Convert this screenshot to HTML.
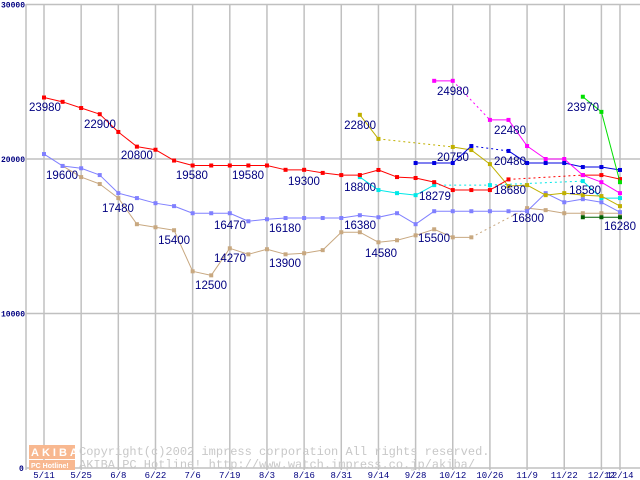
<!DOCTYPE html>
<html><head><meta charset="utf-8"><style>
body{margin:0;background:#fff;}
svg{display:block;font-family:"Liberation Sans",sans-serif;}
</style></head><body>
<svg id="chart" width="640" height="480" viewBox="0 0 640 480" xmlns="http://www.w3.org/2000/svg">
<g id="grid"></g>
<g id="wm">
  <rect x="29" y="445" width="46" height="14" fill="#f8b890"/>
  <text x="31" y="456" font-size="11" fill="#fff" font-weight="bold" letter-spacing="3">AKIBA</text>
  <rect x="29" y="460" width="46" height="10" fill="#f8b890"/>
  <text x="31" y="468" font-size="7" fill="#fff" font-weight="bold">PC Hotline!</text>
  <text x="79" y="455" font-family="'Liberation Mono',monospace" font-size="12" fill="#c8c8c8">Copyright(c)2002 impress corporation All rights reserved.</text>
  <text x="79" y="468" font-family="'Liberation Mono',monospace" font-size="12" fill="#c8c8c8">AKIBA PC Hotline!  http://www.watch.impress.co.jp/akiba/</text>
</g>
<g id="series"></g>
<g id="labels"></g>
</svg>
<script>
const xTicks=["5/11","5/25","6/8","6/22","7/6","7/19","8/3","8/16","8/31","9/14","9/28","10/12","10/26","11/9","11/22","12/12","12/14"];
const xTickIdx=[0,2,4,6,8,10,12,14,16,18,20,22,24,26,28,30,31];
const yTicks=[0,10000,20000,30000];
const N=32;
const red=[23980,23700,23300,22900,21750,20800,20600,19900,19580,19580,19580,19580,19580,19300,19300,19100,18960,18960,19290,18830,18770,18500,17990,17990,17990,18680,null,null,null,18960,18960,18700];
const lightBlue=[20320,19550,19400,18960,17790,17470,17140,16950,16490,16490,16490,15970,16100,16180,16180,16180,16180,16360,16230,16490,15780,16620,16620,16620,16620,16620,16620,17790,17200,17400,17200,16560];
const tan=[null,19550,18830,18380,17470,15780,15580,15390,12730,12470,14220,13830,14160,13830,13900,14100,15260,15260,14610,14740,15060,15450,14930,14930,null,null,16820,16690,16490,16490,16490,16490];
const darkGreen=[...Array(29).fill(null),16230,16230,16230];
const green=[...Array(29).fill(null),24030,23050,18500];
const magenta=[...Array(21).fill(null),25060,25060,null,22530,22530,20840,20000,20000,18960,18500,17790];
const blue=[...Array(20).fill(null),19740,19740,19740,20840,null,20520,19740,19740,19740,19480,19480,19290];
const olive=[...Array(17).fill(null),22860,21300,null,null,null,20780,20580,19670,18250,18310,17660,17790,17660,17600,16950];
const cyan=[...Array(17).fill(null),18830,17990,17790,17660,18310,null,null,18310,null,null,null,null,18570,17470,17470];
const seriesList=[["tan",tan,"#c8a880"],["light-blue",lightBlue,"#8080ff"],["dark-green",darkGreen,"#006000"],["cyan",cyan,"#00e8e8"],["olive",olive,"#c0b000"],["red",red,"#ff0000"],["blue",blue,"#0000e0"],["magenta",magenta,"#ff00ff"],["green",green,"#00e000"]];
const labelTexts=["23980","22900","20800","19580","19580","19300","19600","17480","15400","16470","16180","12500","14270","13900","24980","22480","23970","22800","20750","20480","18800","18279","18680","18580","16380","15500","16800","16280","14580"];
const labelIdx=[-0.81,2.15,4.14,7.10,10.12,13.13,0.11,3.12,6.14,9.15,12.11,8.13,9.15,12.11,21.15,24.22,28.15,16.15,21.15,24.22,16.15,20.18,24.22,28.26,16.15,20.13,25.19,30.14,17.28];
const labelVals=[23370,22270,20260,18960,18960,18580,18960,16830,14760,15730,15530,11840,13590,13270,24400,21880,23370,22200,20130,19870,18190,17610,17990,17990,15730,14890,16180,15660,13920];
const NS="http://www.w3.org/2000/svg";
const X=i=>44+i*18.58;
const Y=v=>468-v*0.01545;
function mk(t,a,p){const e=document.createElementNS(NS,t);for(const k in a)e.setAttribute(k,a[k]);p.appendChild(e);return e;}
const grid=document.getElementById('grid');
yTicks.forEach(v=>{
  const l=mk('line',{x1:26,x2:640,y1:Y(v),y2:Y(v),stroke:'#c0c0c0','stroke-width':1.5},grid);
  
  
  const t=mk('text',{x:v===0?19:1,y:Y(v)+3,'font-size':8,'font-weight':'bold',fill:'#000080','font-family':"'Liberation Mono',monospace"},grid);
  t.textContent=v;
  
  
});
mk('line',{x1:26,x2:26,y1:4,y2:470,stroke:'#c0c0c0','stroke-width':1.5},grid);
xTickIdx.forEach((ix,k)=>{
  const l=mk('line',{x1:X(ix),x2:X(ix),y1:4,y2:470,stroke:'#c0c0c0','stroke-width':1.5},grid);
  
  
  const t=mk('text',{x:X(ix),y:478,'font-size':9,fill:'#000080','text-anchor':'middle','font-family':"'Liberation Mono',monospace"},grid);
  t.textContent=xTicks[k];
  
  
});
const sg=document.getElementById('series');
seriesList.forEach(([name,data,col])=>{
  const g=mk('g',{},sg);
  
  
  let prev=-1;
  for(let i=0;i<N;i++){
    if(data[i]==null)continue;
    if(prev>=0){
      const a={x1:X(prev),y1:Y(data[prev]),x2:X(i),y2:Y(data[i]),stroke:col,'stroke-width':1};
      if(i-prev>1)a['stroke-dasharray']='2,3';
      const l=mk('line',a,g);
      
      
    }
    prev=i;
  }
  for(let i=0;i<N;i++){
    if(data[i]==null)continue;
    const r=mk('rect',{x:X(i)-2,y:Y(data[i])-2,width:4,height:4,fill:col},g);
    
    
  }
});
const lg=document.getElementById('labels');
labelTexts.forEach((s,k)=>{
  const t=mk('text',{x:X(labelIdx[k]),y:Y(labelVals[k])+4,'font-size':11.5,fill:'#000080','text-anchor':'start'},lg);
  t.textContent=s;
  
  
});
</script>
</body></html>
